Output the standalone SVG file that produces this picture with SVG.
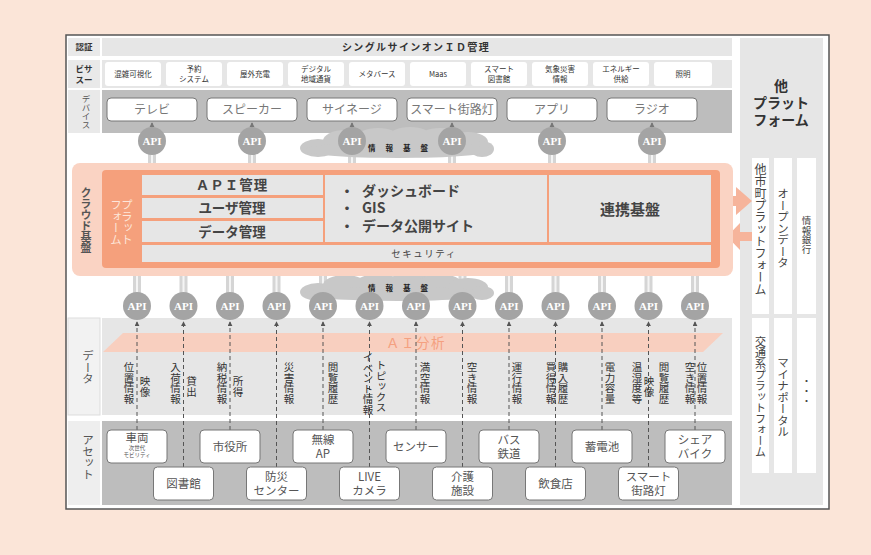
<svg xmlns="http://www.w3.org/2000/svg" width="871" height="555" viewBox="0 0 871 555">
<defs>
<style>
text{font-family:"Noto Sans CJK JP","Noto Sans",sans-serif;}
.lbl{fill:#e9e9e9;}
.band{fill:#e6e6e6;}
.dband{fill:#bdbdbd;}
.svc{fill:#fff;}
.dev{fill:#fff;stroke:#777;stroke-width:1;}
.ast{fill:#fff;stroke:#777;stroke-width:1;}
.t8{font-size:7.5px;fill:#333;text-anchor:middle;}
.tl{font-size:8.5px;fill:#333;text-anchor:middle;font-weight:bold;}
.td{font-size:12px;fill:#777;text-anchor:middle;}
.ta{font-size:11.5px;fill:#555;text-anchor:middle;}
.v{writing-mode:vertical-rl;}
.vl{font-size:11.5px;fill:#555;}
.dt{font-size:10.5px;fill:#333;}
.api circle{fill:#a4a4a4;}
.api text{font-family:"Liberation Serif",serif;font-weight:bold;font-size:11px;fill:#fff;text-anchor:middle;}
.pipe{fill:#d5d5d5;}
.pipein{stroke:#f4f4f4;stroke-width:2;}
.cloud ellipse{fill:#c8c8c8;}
.kiban{font-size:7.5px;font-weight:bold;fill:#222;letter-spacing:10px;}
.cell{fill:#e6e6e6;}
.ct{font-size:13.5px;font-weight:bold;fill:#444;text-anchor:middle;}
.dash{stroke:#555;stroke-width:1;stroke-dasharray:4 3;fill:none;}
.dbl{stroke:#777;stroke-width:1.5;fill:none;}
.oarrow{fill:#f6b49b;}
</style>
<marker id="ah" viewBox="0 0 6 6" refX="5" refY="3" markerWidth="5" markerHeight="5" orient="auto-start-reverse"><path d="M0,0L6,3L0,6z" fill="#555"/></marker>
<marker id="ah2" viewBox="0 0 6 6" refX="5" refY="3" markerWidth="3.5" markerHeight="3.5" orient="auto-start-reverse"><path d="M0,0L6,3L0,6z" fill="#777"/></marker>
</defs>

<rect x="0" y="0" width="871" height="555" fill="#fbe5d8"/>
<rect id="frame" x="66" y="35" width="763" height="474" fill="#fff" stroke="#555" stroke-width="1.5"/>

<!-- Other platforms column -->
<g id="other-platform">
<rect x="740" y="38" width="83" height="467" fill="#e6e6e6"/>
<text x="781" y="91" font-size="14" font-weight="bold" fill="#333" text-anchor="middle">他</text>
<text x="781" y="108" font-size="14" font-weight="bold" fill="#333" text-anchor="middle">プラット</text>
<text x="781" y="125" font-size="14" font-weight="bold" fill="#333" text-anchor="middle">フォーム</text>
</g>
<g id="other-muni">
<rect x="752" y="158" width="17" height="156" fill="#fff"/>
<text class="v" x="760.5" y="163" font-size="12" fill="#444">他市町プラットフォーム</text>
</g>
<g id="open-data">
<rect x="774" y="158" width="18" height="156" fill="#fff"/>
<text class="v" x="783" y="188" font-size="11.5" fill="#444">オープンデータ</text>
</g>
<g id="info-bank">
<rect x="797" y="158" width="19" height="156" fill="#fff"/>
<text class="v" x="806.5" y="216" font-size="9.5" fill="#444">情報銀行</text>
</g>
<g id="transport">
<rect x="752" y="318" width="17" height="155" fill="#fff"/>
<text class="v" x="760.5" y="336" font-size="11" fill="#444">交通系プラットフォーム</text>
</g>
<g id="myna">
<rect x="774" y="318" width="18" height="155" fill="#fff"/>
<text class="v" x="783" y="357" font-size="11.5" fill="#444">マイナポータル</text>
</g>
<g id="etc">
<rect x="797" y="318" width="19" height="155" fill="#fff"/>
<text class="v" x="806.5" y="376" font-size="10" fill="#444">・・・</text>
</g>

<!-- Auth row -->
<g id="auth">
<rect class="lbl" x="68" y="38" width="32" height="18"/>
<text class="tl" x="84" y="50">認証</text>
<rect class="band" x="102" y="38" width="630" height="18"/>
<text x="416" y="51" font-size="10" font-weight="bold" fill="#333" text-anchor="middle" letter-spacing="1.4">シングルサインオンＩＤ管理</text>
</g>

<!-- Service row -->
<g id="service">
<rect class="lbl" x="68" y="60" width="32" height="28"/>
<text class="tl" x="84" y="72">ビサ</text>
<text class="tl" x="84" y="83">スー</text>
<rect class="band" x="102" y="60" width="630" height="28"/>
</g>
<g id="svc1"><rect class="svc" x="105" y="62" width="56" height="24" rx="3"/><text class="t8" x="133" y="77">混雑可視化</text></g>
<g id="svc2"><rect class="svc" x="166" y="62" width="56" height="24" rx="3"/><text class="t8" x="194" y="72">予約</text><text class="t8" x="194" y="82">システム</text></g>
<g id="svc3"><rect class="svc" x="227" y="62" width="56" height="24" rx="3"/><text class="t8" x="255" y="77">屋外充電</text></g>
<g id="svc4"><rect class="svc" x="288" y="62" width="56" height="24" rx="3"/><text class="t8" x="316" y="72">デジタル</text><text class="t8" x="316" y="82">地域通貨</text></g>
<g id="svc5"><rect class="svc" x="349" y="62" width="56" height="24" rx="3"/><text class="t8" x="377" y="77">メタバース</text></g>
<g id="svc6"><rect class="svc" x="410" y="62" width="56" height="24" rx="3"/><text class="t8" x="438" y="77">Maas</text></g>
<g id="svc7"><rect class="svc" x="471" y="62" width="56" height="24" rx="3"/><text class="t8" x="499" y="72">スマート</text><text class="t8" x="499" y="82">図書館</text></g>
<g id="svc8"><rect class="svc" x="532" y="62" width="56" height="24" rx="3"/><text class="t8" x="560" y="72">気象災害</text><text class="t8" x="560" y="82">情報</text></g>
<g id="svc9"><rect class="svc" x="593" y="62" width="56" height="24" rx="3"/><text class="t8" x="621" y="72">エネルギー</text><text class="t8" x="621" y="82">供給</text></g>
<g id="svc10"><rect class="svc" x="654" y="62" width="58" height="24" rx="3"/><text class="t8" x="683" y="77">照明</text></g>

<!-- Device row -->
<g id="device">
<rect class="lbl" x="68" y="90" width="32" height="43"/>
<text class="v" x="86" y="95" font-size="8.5" fill="#555">デバイス</text>
<rect class="dband" x="102" y="90" width="630" height="43"/>
</g>
<g id="dev1"><rect class="dev" x="107" y="98" width="90" height="23" rx="4"/><text class="td" x="152" y="114">テレビ</text></g>
<g id="dev2"><rect class="dev" x="207" y="98" width="90" height="23" rx="4"/><text class="td" x="252" y="114">スピーカー</text></g>
<g id="dev3"><rect class="dev" x="307" y="98" width="90" height="23" rx="4"/><text class="td" x="352" y="114">サイネージ</text></g>
<g id="dev4"><rect class="dev" x="407" y="98" width="90" height="23" rx="4"/><text class="td" x="452" y="114">スマート街路灯</text></g>
<g id="dev5"><rect class="dev" x="507" y="98" width="90" height="23" rx="4"/><text class="td" x="552" y="114">アプリ</text></g>
<g id="dev6"><rect class="dev" x="607" y="98" width="90" height="23" rx="4"/><text class="td" x="652" y="114">ラジオ</text></g>

<!-- Pipes -->
<g id="pipes">
<rect class="pipe" x="148" y="141" width="8" height="26"/><rect class="pipe" x="248" y="141" width="8" height="26"/>
<rect class="pipe" x="348" y="141" width="8" height="26"/><rect class="pipe" x="448" y="141" width="8" height="26"/>
<rect class="pipe" x="548" y="141" width="8" height="26"/><rect class="pipe" x="648" y="141" width="8" height="26"/>
<line class="pipein" x1="152" y1="150" x2="152" y2="167"/><line class="pipein" x1="252" y1="150" x2="252" y2="167"/>
<line class="pipein" x1="352" y1="150" x2="352" y2="167"/><line class="pipein" x1="452" y1="150" x2="452" y2="167"/>
<line class="pipein" x1="552" y1="150" x2="552" y2="167"/><line class="pipein" x1="652" y1="150" x2="652" y2="167"/>
<rect class="pipe" x="133" y="272" width="8" height="30"/><rect class="pipe" x="179.5" y="272" width="8" height="30"/>
<rect class="pipe" x="226" y="272" width="8" height="30"/><rect class="pipe" x="272.5" y="272" width="8" height="30"/>
<rect class="pipe" x="319" y="272" width="8" height="30"/><rect class="pipe" x="365.5" y="272" width="8" height="30"/>
<rect class="pipe" x="412" y="272" width="8" height="30"/><rect class="pipe" x="458.5" y="272" width="8" height="30"/>
<rect class="pipe" x="505" y="272" width="8" height="30"/><rect class="pipe" x="551.5" y="272" width="8" height="30"/>
<rect class="pipe" x="598" y="272" width="8" height="30"/><rect class="pipe" x="644.5" y="272" width="8" height="30"/>
<rect class="pipe" x="691" y="272" width="8" height="30"/>
<line class="pipein" x1="137" y1="272" x2="137" y2="294"/><line class="pipein" x1="183.5" y1="272" x2="183.5" y2="294"/>
<line class="pipein" x1="230" y1="272" x2="230" y2="294"/><line class="pipein" x1="276.5" y1="272" x2="276.5" y2="294"/>
<line class="pipein" x1="323" y1="272" x2="323" y2="294"/><line class="pipein" x1="369.5" y1="272" x2="369.5" y2="294"/>
<line class="pipein" x1="416" y1="272" x2="416" y2="294"/><line class="pipein" x1="462.5" y1="272" x2="462.5" y2="294"/>
<line class="pipein" x1="509" y1="272" x2="509" y2="294"/><line class="pipein" x1="555.5" y1="272" x2="555.5" y2="294"/>
<line class="pipein" x1="602" y1="272" x2="602" y2="294"/><line class="pipein" x1="648.5" y1="272" x2="648.5" y2="294"/>
<line class="pipein" x1="695" y1="272" x2="695" y2="294"/>
</g>

<!-- Clouds -->
<g id="cloud-top" class="cloud">
<ellipse cx="318" cy="148" rx="18" ry="9"/><ellipse cx="345" cy="141" rx="22" ry="11"/>
<ellipse cx="378" cy="138" rx="22" ry="10"/><ellipse cx="410" cy="137" rx="22" ry="10"/>
<ellipse cx="440" cy="139" rx="22" ry="11"/><ellipse cx="468" cy="142" rx="20" ry="10"/>
<ellipse cx="482" cy="149" rx="12" ry="8"/><ellipse cx="398" cy="150" rx="94" ry="8"/>
<text class="kiban" x="368" y="151">情報基盤</text>
</g>
<g id="cloud-bottom" class="cloud">
<ellipse cx="318" cy="292" rx="18" ry="9"/><ellipse cx="345" cy="285" rx="22" ry="10"/>
<ellipse cx="378" cy="283" rx="22" ry="9"/><ellipse cx="410" cy="282" rx="22" ry="9"/>
<ellipse cx="440" cy="284" rx="22" ry="10"/><ellipse cx="468" cy="287" rx="20" ry="9"/>
<ellipse cx="482" cy="293" rx="12" ry="7"/><ellipse cx="398" cy="294" rx="94" ry="7"/>
<text class="kiban" x="368" y="291">情報基盤</text>
</g>

<!-- Arrows to other platforms -->
<g id="flow-arrows">
<path class="oarrow" d="M720,196H736V187L752,201L736,215V206H720Z"/>
<path class="oarrow" d="M752,232H740V223L727,236.5L740,250V241H752Z"/>
</g>

<!-- Cloud platform -->
<g id="cloud-platform">
<rect x="72" y="163" width="661" height="113" rx="8" fill="#fad3c3"/>
<text class="v" x="86" y="187" font-size="11" font-weight="bold" fill="#555">クラウド基盤</text>
<rect x="102" y="170" width="618" height="98" rx="4" fill="#f5a07c"/>
<text class="v" x="127" y="199" font-size="11.5" fill="#fde6da">プラット</text>
<text class="v" x="116" y="199" font-size="11.5" fill="#fde6da">フォーム</text>
</g>
<g id="api-mgmt"><rect class="cell" x="142" y="175" width="181" height="20"/><text class="ct" x="232" y="190" letter-spacing="1">ＡＰＩ管理</text></g>
<g id="user-mgmt"><rect class="cell" x="142" y="198" width="181" height="20"/><text class="ct" x="232" y="213">ユーザ管理</text></g>
<g id="data-mgmt"><rect class="cell" x="142" y="221" width="181" height="21"/><text class="ct" x="232" y="237">データ管理</text></g>
<g id="dashboard">
<rect class="cell" x="325" y="175" width="222" height="67"/>
<text x="340" y="196" font-size="14" font-weight="bold" fill="#444">・</text>
<text x="362" y="196" font-size="14" font-weight="bold" fill="#444">ダッシュボード</text>
<text x="340" y="213" font-size="14" font-weight="bold" fill="#444">・</text>
<text x="362" y="213" font-size="14" font-weight="bold" fill="#444">GIS</text>
<text x="340" y="231" font-size="14" font-weight="bold" fill="#444">・</text>
<text x="362" y="231" font-size="14" font-weight="bold" fill="#444">データ公開サイト</text>
</g>
<g id="renkei"><rect class="cell" x="549" y="175" width="162" height="67"/><text x="630" y="215" font-size="15" font-weight="bold" fill="#444" text-anchor="middle">連携基盤</text></g>
<g id="security"><rect class="cell" x="142" y="245" width="569" height="17"/><text x="424" y="257" font-size="9.5" fill="#444" text-anchor="middle" letter-spacing="1.5">セキュリティ</text></g>

<!-- Data row -->
<g id="data">
<rect x="68" y="318" width="32" height="97" fill="#f2f2f2" stroke="#ddd" stroke-width="1"/>
<text class="v vl" x="88" y="350">データ</text>
<rect class="band" x="102" y="318" width="630" height="97"/>
<polygon points="123,333 723,333 703,352 103,352" fill="#f8cfbf"/>
<text x="416" y="348" font-size="13.5" fill="#f4a080" text-anchor="middle" letter-spacing="1.5">ＡＩ分析</text>
</g>

<!-- Asset row -->
<g id="asset">
<rect x="68" y="421" width="32" height="84" fill="#eeeeee"/>
<text class="v vl" x="88" y="434">アセット</text>
<rect class="dband" x="102" y="421" width="630" height="84"/>
</g>

<!-- Connectors -->
<g id="connectors">
<line class="dbl" x1="152" y1="123" x2="152" y2="137" marker-start="url(#ah2)" marker-end="url(#ah2)"/>
<line class="dbl" x1="252" y1="123" x2="252" y2="137" marker-start="url(#ah2)" marker-end="url(#ah2)"/>
<line class="dbl" x1="352" y1="123" x2="352" y2="137" marker-start="url(#ah2)" marker-end="url(#ah2)"/>
<line class="dbl" x1="452" y1="123" x2="452" y2="137" marker-start="url(#ah2)" marker-end="url(#ah2)"/>
<line class="dbl" x1="552" y1="123" x2="552" y2="137" marker-start="url(#ah2)" marker-end="url(#ah2)"/>
<line class="dbl" x1="652" y1="123" x2="652" y2="137" marker-start="url(#ah2)" marker-end="url(#ah2)"/>
<line class="dash" x1="137" y1="430" x2="137" y2="322" marker-end="url(#ah)"/>
<line class="dash" x1="183.5" y1="467" x2="183.5" y2="322" marker-end="url(#ah)"/>
<line class="dash" x1="230" y1="430" x2="230" y2="322" marker-end="url(#ah)"/>
<line class="dash" x1="276.5" y1="467" x2="276.5" y2="322" marker-end="url(#ah)"/>
<line class="dash" x1="323" y1="430" x2="323" y2="322" marker-end="url(#ah)"/>
<line class="dash" x1="369.5" y1="467" x2="369.5" y2="322" marker-end="url(#ah)"/>
<line class="dash" x1="416" y1="430" x2="416" y2="322" marker-end="url(#ah)"/>
<line class="dash" x1="462.5" y1="467" x2="462.5" y2="322" marker-end="url(#ah)"/>
<line class="dash" x1="509" y1="430" x2="509" y2="322" marker-end="url(#ah)"/>
<line class="dash" x1="555.5" y1="467" x2="555.5" y2="322" marker-end="url(#ah)"/>
<line class="dash" x1="602" y1="430" x2="602" y2="322" marker-end="url(#ah)"/>
<line class="dash" x1="648.5" y1="467" x2="648.5" y2="322" marker-end="url(#ah)"/>
<line class="dash" x1="695" y1="430" x2="695" y2="322" marker-end="url(#ah)"/>
</g>

<!-- Data labels -->
<g id="data-labels">
<text class="v dt" x="129" y="362">位置情報</text><text class="v dt" x="145" y="376">映像</text>
<text class="v dt" x="175.5" y="362">入荷情報</text><text class="v dt" x="191.5" y="376">貸出</text>
<text class="v dt" x="222" y="362">納税情報</text><text class="v dt" x="238" y="376">所得</text>
<text class="v dt" x="289" y="362">災害情報</text>
<text class="v dt" x="333" y="362">閲覧履歴</text>
<text class="v dt" x="368" y="352">イベント情報</text><text class="v dt" x="381" y="360">トピックス</text>
<text class="v dt" x="425" y="362">満空情報</text>
<text class="v dt" x="472" y="362">空き情報</text>
<text class="v dt" x="517" y="362">運行情報</text>
<text class="v dt" x="551" y="362">買得情報</text><text class="v dt" x="563" y="362">購入履歴</text>
<text class="v dt" x="610" y="362">電力容量</text>
<text class="v dt" x="637" y="362">温湿度等</text><text class="v dt" x="649" y="376">映像</text><text class="v dt" x="664" y="362">閲覧履歴</text>
<text class="v dt" x="690" y="362">空き情報</text><text class="v dt" x="702" y="362">位置情報</text>
</g>

<!-- API nodes top -->
<g id="api-t1" class="api"><circle cx="152" cy="141" r="14"/><text x="152" y="145">API</text></g>
<g id="api-t2" class="api"><circle cx="252" cy="141" r="14"/><text x="252" y="145">API</text></g>
<g id="api-t3" class="api"><circle cx="352" cy="141" r="14"/><text x="352" y="145">API</text></g>
<g id="api-t4" class="api"><circle cx="452" cy="141" r="14"/><text x="452" y="145">API</text></g>
<g id="api-t5" class="api"><circle cx="552" cy="141" r="14"/><text x="552" y="145">API</text></g>
<g id="api-t6" class="api"><circle cx="652" cy="141" r="14"/><text x="652" y="145">API</text></g>
<!-- API nodes bottom -->
<g id="api-b1" class="api"><circle cx="137" cy="306" r="14"/><text x="137" y="310">API</text></g>
<g id="api-b2" class="api"><circle cx="183.5" cy="306" r="14"/><text x="183.5" y="310">API</text></g>
<g id="api-b3" class="api"><circle cx="230" cy="306" r="14"/><text x="230" y="310">API</text></g>
<g id="api-b4" class="api"><circle cx="276.5" cy="306" r="14"/><text x="276.5" y="310">API</text></g>
<g id="api-b5" class="api"><circle cx="323" cy="306" r="14"/><text x="323" y="310">API</text></g>
<g id="api-b6" class="api"><circle cx="369.5" cy="306" r="14"/><text x="369.5" y="310">API</text></g>
<g id="api-b7" class="api"><circle cx="416" cy="306" r="14"/><text x="416" y="310">API</text></g>
<g id="api-b8" class="api"><circle cx="462.5" cy="306" r="14"/><text x="462.5" y="310">API</text></g>
<g id="api-b9" class="api"><circle cx="509" cy="306" r="14"/><text x="509" y="310">API</text></g>
<g id="api-b10" class="api"><circle cx="555.5" cy="306" r="14"/><text x="555.5" y="310">API</text></g>
<g id="api-b11" class="api"><circle cx="602" cy="306" r="14"/><text x="602" y="310">API</text></g>
<g id="api-b12" class="api"><circle cx="648.5" cy="306" r="14"/><text x="648.5" y="310">API</text></g>
<g id="api-b13" class="api"><circle cx="695" cy="306" r="14"/><text x="695" y="310">API</text></g>

<!-- Asset nodes -->
<g id="a-vehicle"><rect class="ast" x="107" y="430" width="60" height="33" rx="4"/><text class="ta" x="137" y="442" font-size="11">車両</text><text class="ta" x="137" y="450" style="font-size:5.5px">次世代</text><text class="ta" x="137" y="457" style="font-size:5.5px">モビリティ</text></g>
<g id="a-cityhall"><rect class="ast" x="200" y="430" width="60" height="33" rx="4"/><text class="ta" x="230" y="451">市役所</text></g>
<g id="a-wlan"><rect class="ast" x="293" y="430" width="60" height="33" rx="4"/><text class="ta" x="323" y="444">無線</text><text class="ta" x="323" y="458">AP</text></g>
<g id="a-sensor"><rect class="ast" x="386" y="430" width="60" height="33" rx="4"/><text class="ta" x="416" y="451">センサー</text></g>
<g id="a-bus"><rect class="ast" x="479" y="430" width="60" height="33" rx="4"/><text class="ta" x="509" y="444">バス</text><text class="ta" x="509" y="458">鉄道</text></g>
<g id="a-battery"><rect class="ast" x="572" y="430" width="60" height="33" rx="4"/><text class="ta" x="602" y="451">蓄電池</text></g>
<g id="a-bike"><rect class="ast" x="665" y="430" width="60" height="33" rx="4"/><text class="ta" x="695" y="444">シェア</text><text class="ta" x="695" y="458">バイク</text></g>
<g id="a-library"><rect class="ast" x="153.5" y="467" width="60" height="33" rx="4"/><text class="ta" x="183.5" y="488">図書館</text></g>
<g id="a-disaster"><rect class="ast" x="246.5" y="467" width="60" height="33" rx="4"/><text class="ta" x="276.5" y="481">防災</text><text class="ta" x="276.5" y="495">センター</text></g>
<g id="a-camera"><rect class="ast" x="339.5" y="467" width="60" height="33" rx="4"/><text class="ta" x="369.5" y="481">LIVE</text><text class="ta" x="369.5" y="495">カメラ</text></g>
<g id="a-care"><rect class="ast" x="432.5" y="467" width="60" height="33" rx="4"/><text class="ta" x="462.5" y="481">介護</text><text class="ta" x="462.5" y="495">施設</text></g>
<g id="a-restaurant"><rect class="ast" x="525.5" y="467" width="60" height="33" rx="4"/><text class="ta" x="555.5" y="488">飲食店</text></g>
<g id="a-streetlight"><rect class="ast" x="618.5" y="467" width="60" height="33" rx="4"/><text class="ta" x="648.5" y="481">スマート</text><text class="ta" x="648.5" y="495">街路灯</text></g>
</svg>
